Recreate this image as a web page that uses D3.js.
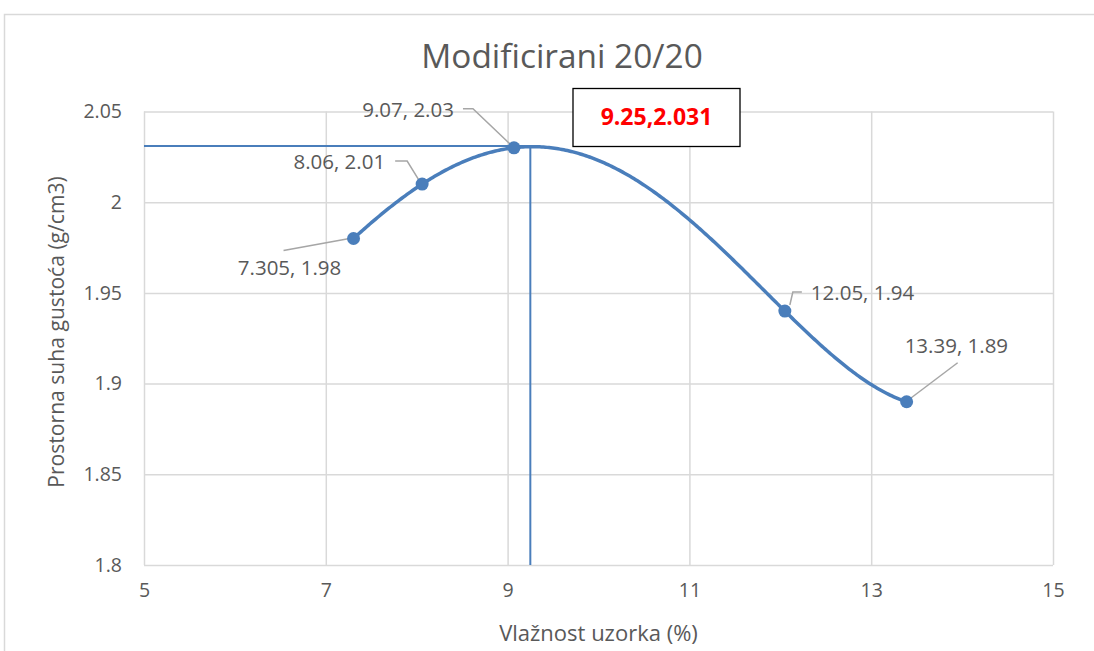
<!DOCTYPE html>
<html><head><meta charset="utf-8">
<script src="https://cdn.jsdelivr.net/npm/d3@7"></script>
<style>body{margin:0;background:#fff;} svg{display:block;} text{font-family:"Open Sans",sans-serif;fill:#595959;}</style>
</head><body><svg id="c" width="1094" height="651"></svg>
<script>
const moisture = [7.305, 8.06, 9.07, 12.05, 13.39];
const density = [1.98, 2.01, 2.03, 1.94, 1.89];
const pointLabels = ["7.305, 1.98", "8.06, 2.01", "9.07, 2.03", "12.05, 1.94", "13.39, 1.89"];
const xTicks = [5, 7, 9, 11, 13, 15];
const yTicks = [1.8, 1.85, 1.9, 1.95, 2, 2.05];
const optimum = {x: 9.25, y: 2.031, label: "9.25,2.031"};
const title = "Modificirani 20/20";
const xTitle = "Vlažnost uzorka (%)";
const yTitle = "Prostorna suha gustoća (g/cm3)";

const svg = d3.select("#c");
const L = 144, R = 1053, T = 111.5, B = 565;
const x = d3.scaleLinear().domain([5, 15]).range([L, R]);
const y = d3.scaleLinear().domain([1.8, 2.05]).range([B, T]);
const blue = "#4a7ebb", grid = "#d9d9d9";

svg.append("rect").attr("x", 4.5).attr("y", 14.5).attr("width", 1200).attr("height", 800)
  .attr("fill", "#fff").attr("stroke", grid).attr("stroke-width", 1.5);

// gridlines
const gx = svg.append("g").attr("transform", `translate(0,${B})`)
  .call(d3.axisBottom(x).tickValues(xTicks).tickSize(-(B - T)).tickFormat(d3.format("d")).tickPadding(18));
const gy = svg.append("g").attr("transform", `translate(${L},0)`)
  .call(d3.axisLeft(y).tickValues(yTicks).tickSize(-(R - L)).tickFormat(d => d3.format("")(+d.toFixed(2))).tickPadding(22));
[gx, gy].forEach(g => {
  g.select(".domain").remove();
  g.selectAll(".tick line").attr("stroke", grid).attr("stroke-width", 1.5);
  g.selectAll(".tick text").attr("fill", "#595959").style("font-size", "19.5px").style("font-family", "Open Sans");
});
gx.selectAll(".tick text").attr("dy", "0.71em");

// title & axis titles
svg.append("text").attr("x", 562).attr("y", 68).attr("text-anchor", "middle").style("font-size", "33.4px").text(title);
svg.append("text").attr("x", 598.5).attr("y", 641).attr("text-anchor", "middle").style("font-size", "22px").text(xTitle);
svg.append("text").attr("transform", `translate(64,332) rotate(-90)`).attr("text-anchor", "middle").style("font-size", "21.1px").text(yTitle);

// optimum reference lines
svg.append("line").attr("x1", x(5)).attr("x2", x(optimum.x)).attr("y1", y(optimum.y)).attr("y2", y(optimum.y))
  .attr("stroke", blue).attr("stroke-width", 2);
svg.append("line").attr("x1", x(optimum.x)).attr("x2", x(optimum.x)).attr("y1", y(optimum.y)).attr("y2", B)
  .attr("stroke", blue).attr("stroke-width", 2);

// polynomial trendline (order 4, fitted to the five measured points)
const pts = moisture.map((m, i) => [m, density[i]]);
function trend(t) {
  let s = 0;
  for (let i = 0; i < moisture.length; i++) {
    let w = density[i];
    for (let j = 0; j < moisture.length; j++) if (j !== i) w *= (t - moisture[j]) / (moisture[i] - moisture[j]);
    s += w;
  }
  return s;
}
const xs = d3.range(moisture[0], d3.max(moisture) + 1e-9, (d3.max(moisture) - moisture[0]) / 300);
svg.append("path").datum(xs)
  .attr("d", d3.line().x(t => x(t)).y(t => y(trend(t))))
  .attr("fill", "none").attr("stroke", blue).attr("stroke-width", 3.5);

// leader lines & labels (offsets relative to each point)
const lab = [
  {dx: -64, dy: 37, anchor: "middle", leader: [[-70, 12], [-4, 0]]},
  {dx: -37, dy: -15, anchor: "end", leader: [[-27, -23], [-15, -23], [-2, -2]]},
  {dx: -60, dy: -31, anchor: "end", leader: [[-51, -39], [-41, -39], [-2, -2]]},
  {dx: 26, dy: -11, anchor: "start", leader: [[5, -6], [8, -19], [17, -19]]},
  {dx: -2, dy: -49, anchor: "start", leader: [[51, -39], [2, -2]]}
];
const gl = svg.append("g");
pts.forEach((p, i) => {
  const px = x(p[0]), py = y(p[1]), c = lab[i];
  gl.append("polyline").attr("points", c.leader.map(q => [px + q[0], py + q[1]].join(",")).join(" "))
    .attr("fill", "none").attr("stroke", "#a6a6a6").attr("stroke-width", 1.5);
  gl.append("text").attr("x", px + c.dx).attr("y", py + c.dy).attr("text-anchor", c.anchor)
    .style("font-size", "20.5px").attr("fill", "#404040").text(pointLabels[i]);
});

// markers
svg.append("g").selectAll("circle").data(pts).join("circle")
  .attr("cx", d => x(d[0])).attr("cy", d => y(d[1])).attr("r", 6.5).attr("fill", blue);

// optimum box
const bx = 573, by = 88.5;
svg.append("rect").attr("x", bx).attr("y", by).attr("width", 167).attr("height", 58)
  .attr("fill", "#fff").attr("stroke", "#000").attr("stroke-width", 1.3);
svg.append("text").attr("x", bx + 83.5).attr("y", by + 36).attr("text-anchor", "middle")
  .style("font-size", "23px").style("font-weight", "bold").style("fill", "#ff0000").text(optimum.label);
</script></body></html>
